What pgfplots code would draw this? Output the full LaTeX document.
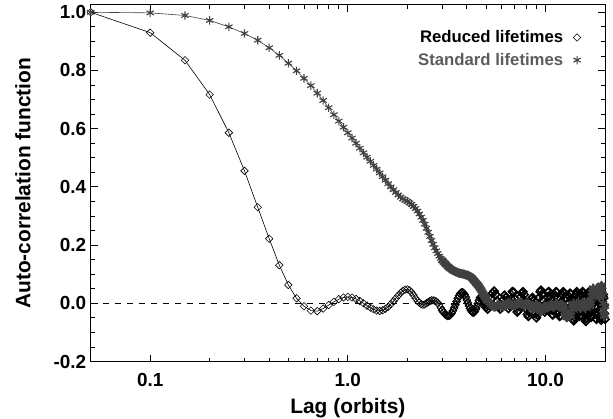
\documentclass[border=0pt]{standalone}
\usepackage{pgfplots}
\pgfplotsset{compat=1.18}
\usepackage{fontspec}
\setmainfont{Liberation Sans}
\definecolor{stdgray}{gray}{0.25}
\definecolor{stdtext}{gray}{0.36}
\pgfplotsset{markonly legend/.style={legend image code/.code={\path (0bp,0bp); \draw[##1] plot[only marks] coordinates {(12bp,0bp)};}}}
\begin{document}
\begin{tikzpicture}
\begin{axis}[
  scale only axis,
  width=514.3bp, height=356.5bp,
  xmode=log, xmin=0.05, xmax=20,
  ymin=-0.2, ymax=1.025,
  clip mode=individual,
  xtick={0.1,1,10}, xticklabels={0.1,1.0,10.0},
  ytick={-0.2,0,0.2,0.4,0.6,0.8,1.0},
  yticklabels={-0.2,0.0,0.2,0.4,0.6,0.8,1.0},
  minor ytick={-0.15,-0.1,-0.05,0.05,0.1,0.15,0.25,0.3,0.35,0.45,0.5,0.55,0.65,0.7,0.75,0.85,0.9,0.95},
  tick align=inside,
  major tick length=7bp, minor tick length=4bp,
  every tick/.style={black, line width=0.8bp},
  axis line style={line width=1bp},
  /pgf/number format/assume math mode=true,
  ticklabel style={font=\fontsize{19}{22}\selectfont\bfseries},
  xticklabel style={yshift=-8bp},
  yticklabel style={xshift=-1bp},
  xlabel={Lag (orbits)},
  ylabel={Auto-correlation function},
  label style={font=\fontsize{21}{24}\selectfont\bfseries},
  xlabel style={at={(axis description cs:0.5,-0.1304)}, anchor=center},
  ylabel style={at={(axis description cs:-0.1316,0.5)}, anchor=center},
  legend style={draw=none, fill=none, at={(1,1)}, anchor=north east,
    inner xsep=0pt, inner ysep=0pt,
    xshift=-24bp, yshift=-24bp, font=\fontsize{16.8}{19}\selectfont\bfseries,
    row sep=6bp, nodes={inner sep=1.5bp}},
  legend cell align=right,
  legend plot pos=right,
]
\addplot[black, dash pattern=on 6bp off 6bp, line width=0.7bp, forget plot] coordinates {(0.05,0) (20,0)};
% Reduced lifetimes, sparse part
\addplot[black, line width=0.6bp, mark=square, mark size=2.65bp, mark options={rotate=45, line width=0.6bp, solid},
  markonly legend]
coordinates {
(0.05,1.000) (0.10,0.930) (0.15,0.835) (0.20,0.717) (0.25,0.586) (0.30,0.455) (0.35,0.330) (0.40,0.222)
(0.45,0.131) (0.50,0.063) (0.55,0.017) (0.60,-0.010) (0.65,-0.025) (0.70,-0.027) (0.75,-0.018) (0.80,-0.006)
(0.85,0.005) (0.90,0.014) (0.95,0.020) (1.00,0.022) (1.05,0.020) (1.10,0.015) (1.15,0.008) (1.20,0.000)
(1.25,-0.008) (1.30,-0.015) (1.35,-0.021) (1.40,-0.025) (1.45,-0.026) (1.50,-0.024) (1.55,-0.019) (1.60,-0.012)
(1.65,-0.003) (1.70,0.007) (1.75,0.017) (1.80,0.027) (1.85,0.036) (1.90,0.043) (1.95,0.047) (2.00,0.048)
(2.05,0.045) (2.10,0.038) (2.15,0.028) (2.20,0.017) (2.25,0.008) (2.30,0.002) (2.35,-0.003) (2.40,-0.005)
(2.45,-0.004) (2.50,0.000) (2.55,0.004) (2.60,0.008) (2.65,0.010) (2.70,0.010) (2.75,0.009) (2.80,0.006)
(2.85,0.002) (2.90,-0.006) (2.95,-0.015) (3.00,-0.024)
};
\addlegendentry{Reduced lifetimes}
% Reduced lifetimes, middle part
\addplot[black, line width=0.6bp, mark=square, mark size=2.65bp, mark options={rotate=45, line width=1.0bp, solid},
  forget plot]
coordinates {
(3.00,-0.024) (3.05,-0.031) (3.10,-0.037) (3.15,-0.041) (3.20,-0.043)
(3.25,-0.043) (3.30,-0.040) (3.35,-0.034) (3.40,-0.026) (3.45,-0.016) (3.50,-0.005) (3.55,0.006) (3.60,0.017)
(3.65,0.026) (3.70,0.033) (3.75,0.037) (3.80,0.038) (3.85,0.035) (3.90,0.029) (3.95,0.021) (4.00,0.011)
(4.05,0.001) (4.10,-0.009) (4.15,-0.018) (4.20,-0.025) (4.25,-0.030) (4.30,-0.032) (4.35,-0.031) (4.40,-0.026)
(4.45,-0.019) (4.50,-0.010) (4.55,0.000) (4.60,0.010) (4.65,0.018) (4.70,0.022) (4.75,0.022) (4.80,0.017)
(4.85,0.009) (4.90,0.000) (4.95,-0.008) (5.00,-0.014)
};
% Reduced lifetimes, dense part
\addplot[black, line width=0.8bp, mark=square, mark size=2.8bp, mark options={rotate=45, line width=1.6bp, solid},
  forget plot]
coordinates {
(5.0,-0.014)
(5.1,-0.020) (5.2,-0.008) (5.3,0.015) (5.4,0.035) (5.5,0.042) (5.6,0.030) (5.7,0.008) (5.8,-0.012)
(5.9,-0.020) (6.0,-0.010) (6.1,0.012) (6.2,0.028) (6.3,0.020) (6.4,0.000) (6.5,-0.018) (6.6,-0.010)
(6.7,0.015) (6.8,0.040) (6.9,0.038) (7.0,0.015) (7.1,-0.010) (7.2,-0.030) (7.3,-0.025) (7.4,0.000)
(7.5,0.022) (7.6,0.035) (7.7,0.040) (7.8,0.030) (7.9,0.005) (8.0,-0.020) (8.1,-0.038) (8.2,-0.045)
(8.3,-0.030) (8.4,-0.005) (8.5,0.015) (8.6,0.020) (8.7,0.010) (8.8,-0.010) (8.9,-0.035) (9.0,-0.050)
(9.1,-0.040) (9.2,-0.010) (9.3,0.020) (9.4,0.040) (9.5,0.045) (9.6,0.030) (9.7,0.010) (9.8,-0.015)
(9.9,-0.030) (10.0,-0.020)
(10.1,0.000) (10.2,0.022) (10.3,0.038) (10.4,0.040) (10.5,0.025) (10.6,0.002) (10.7,-0.022) (10.8,-0.038)
(10.9,-0.040) (11.0,-0.025) (11.1,0.000) (11.2,0.025) (11.3,0.040) (11.4,0.038) (11.5,0.020) (11.6,-0.005)
(11.7,-0.030) (11.8,-0.045) (11.9,-0.042) (12.0,-0.022) (12.1,0.005) (12.2,0.028) (12.3,0.040) (12.4,0.035)
(12.5,0.015) (12.6,-0.012) (12.7,-0.035) (12.8,-0.048) (12.9,-0.045) (13.0,-0.028) (13.1,-0.002) (13.2,0.022)
(13.3,0.035) (13.4,0.032) (13.5,0.015) (13.6,-0.010) (13.7,-0.035) (13.8,-0.055) (13.9,-0.060) (14.0,-0.048)
(14.1,-0.022) (14.2,0.008) (14.3,0.030) (14.4,0.040) (14.5,0.035) (14.6,0.015) (14.7,-0.010) (14.8,-0.032)
(14.9,-0.045) (15.0,-0.040) (15.1,-0.020) (15.2,0.005) (15.3,0.028) (15.4,0.040) (15.5,0.036) (15.6,0.018)
(15.7,-0.008) (15.8,-0.035) (15.9,-0.055) (16.0,-0.062) (16.1,-0.052) (16.2,-0.028) (16.3,0.000) (16.4,0.025)
(16.5,0.038) (16.6,0.035) (16.7,0.018) (16.8,-0.008) (16.9,-0.032) (17.0,-0.048) (17.1,-0.046) (17.2,-0.028)
(17.3,-0.002) (17.4,0.022) (17.5,0.035) (17.6,0.032) (17.7,0.015) (17.8,-0.010) (17.9,-0.035) (18.0,-0.052)
(18.1,-0.055) (18.2,-0.040) (18.3,-0.015) (18.4,0.012) (18.5,0.030) (18.6,0.035) (18.7,0.022) (18.8,-0.002)
(18.9,-0.028) (19.0,-0.048) (19.1,-0.058) (19.2,-0.050) (19.3,-0.028) (19.4,0.000) (19.5,0.022) (19.6,0.030)
(19.7,0.018) (19.8,-0.008) (19.9,-0.035) (20.0,-0.055)
};
% Standard lifetimes, sparse part
\addplot[stdgray, line width=0.6bp, mark=asterisk, mark size=4.2bp, mark options={line width=1.1bp, solid},
  markonly legend]
coordinates {
(0.05,1.000) (0.10,0.998) (0.15,0.989) (0.20,0.972) (0.25,0.950) (0.30,0.927) (0.35,0.904) (0.40,0.878)
(0.45,0.852) (0.50,0.825) (0.55,0.799) (0.60,0.773) (0.65,0.748) (0.70,0.722) (0.75,0.697) (0.80,0.672)
(0.85,0.648) (0.90,0.626) (0.95,0.605) (1.00,0.586) (1.05,0.568) (1.10,0.550) (1.15,0.533) (1.20,0.517)
(1.25,0.502) (1.30,0.488) (1.35,0.474) (1.40,0.461) (1.45,0.448) (1.50,0.435) (1.55,0.423) (1.60,0.411)
(1.65,0.400) (1.70,0.390) (1.75,0.381) (1.80,0.372) (1.85,0.365) (1.90,0.359) (1.95,0.354) (2.00,0.350)
(2.05,0.345) (2.10,0.340) (2.15,0.333) (2.20,0.326) (2.25,0.317) (2.30,0.307) (2.35,0.296) (2.40,0.285)
(2.45,0.272) (2.50,0.258) (2.55,0.244) (2.60,0.230) (2.65,0.216) (2.70,0.203) (2.75,0.191) (2.80,0.180)
(2.85,0.171) (2.90,0.162) (2.95,0.155) (3.00,0.148)
};
\addlegendentry{\textcolor{stdtext}{Standard lifetimes}}
% Standard lifetimes, dense part
\addplot[stdgray, line width=0.8bp, mark=asterisk, mark size=4.5bp, mark options={line width=1.8bp, solid},
  forget plot]
coordinates {
(3.00,0.148) (3.05,0.142) (3.10,0.137) (3.15,0.132) (3.20,0.127)
(3.25,0.123) (3.30,0.119) (3.35,0.116) (3.40,0.113) (3.45,0.111) (3.50,0.109) (3.55,0.107) (3.60,0.105)
(3.65,0.104) (3.70,0.103) (3.75,0.102) (3.80,0.101) (3.85,0.100) (3.90,0.099) (3.95,0.098) (4.00,0.097)
(4.05,0.096) (4.10,0.094) (4.15,0.092) (4.20,0.089) (4.25,0.086) (4.30,0.082) (4.35,0.078) (4.40,0.074)
(4.45,0.070) (4.50,0.066) (4.55,0.062) (4.60,0.058) (4.65,0.053) (4.70,0.048) (4.75,0.043) (4.80,0.037)
(4.85,0.032) (4.90,0.026) (4.95,0.021) (5.00,0.016)
(5.1,0.008) (5.2,0.002) (5.3,-0.004) (5.4,-0.010) (5.5,-0.013) (5.6,-0.012) (5.7,-0.008) (5.8,-0.006)
(5.9,-0.007) (6.0,-0.010) (6.1,-0.012) (6.2,-0.010) (6.3,-0.005) (6.4,0.000) (6.5,0.002) (6.6,0.000)
(6.7,-0.004) (6.8,-0.008) (6.9,-0.010) (7.0,-0.008) (7.1,-0.004) (7.2,0.000) (7.3,0.003) (7.4,0.004)
(7.5,0.002) (7.6,-0.002) (7.7,-0.006) (7.8,-0.008) (7.9,-0.006) (8.0,-0.002) (8.1,0.001) (8.2,0.000)
(8.3,-0.004) (8.4,-0.010) (8.5,-0.016) (8.6,-0.020) (8.7,-0.018) (8.8,-0.012) (8.9,-0.006) (9.0,-0.004)
(9.1,-0.008) (9.2,-0.015) (9.3,-0.022) (9.4,-0.027) (9.5,-0.028) (9.6,-0.024) (9.7,-0.018) (9.8,-0.012)
(9.9,-0.010) (10.0,-0.012)
(10.1,-0.014) (10.2,-0.016) (10.3,-0.015) (10.4,-0.011) (10.5,-0.006) (10.6,-0.003) (10.7,-0.004) (10.8,-0.008)
(10.9,-0.012) (11.0,-0.013) (11.1,-0.010) (11.2,-0.005) (11.3,-0.001) (11.4,0.000) (11.5,-0.003) (11.6,-0.008)
(11.7,-0.012) (11.8,-0.013) (11.9,-0.010) (12.0,-0.006) (12.1,-0.004) (12.2,-0.006) (12.3,-0.012) (12.4,-0.020)
(12.5,-0.030) (12.6,-0.040) (12.7,-0.046) (12.8,-0.048) (12.9,-0.046) (13.0,-0.042) (13.1,-0.040) (13.2,-0.041)
(13.3,-0.044) (13.4,-0.040) (13.5,-0.030) (13.6,-0.018) (13.7,-0.008) (13.8,-0.002) (13.9,0.000) (14.0,-0.004)
(14.1,-0.010) (14.2,-0.015) (14.3,-0.016) (14.4,-0.012) (14.5,-0.006) (14.6,-0.002) (14.7,-0.003) (14.8,-0.008)
(14.9,-0.014) (15.0,-0.018) (15.1,-0.016) (15.2,-0.010) (15.3,-0.003) (15.4,0.002) (15.5,0.003) (15.6,-0.001)
(15.7,-0.007) (15.8,-0.012) (15.9,-0.014) (16.0,-0.010) (16.1,-0.004) (16.2,0.002) (16.3,0.005) (16.4,0.004)
(16.5,0.000) (16.6,-0.006) (16.7,-0.010) (16.8,-0.008) (16.9,0.000) (17.0,0.012) (17.1,0.025) (17.2,0.038)
(17.3,0.048) (17.4,0.052) (17.5,0.050) (17.6,0.045) (17.7,0.040) (17.8,0.038) (17.9,0.040) (18.0,0.045)
(18.1,0.050) (18.2,0.052) (18.3,0.048) (18.4,0.040) (18.5,0.030) (18.6,0.022) (18.7,0.020) (18.8,0.025)
(18.9,0.035) (19.0,0.048) (19.1,0.058) (19.2,0.062) (19.3,0.058) (19.4,0.045) (19.5,0.025) (19.6,0.000)
(19.7,-0.025) (19.8,-0.045) (19.9,-0.040) (20.0,-0.010)
};
\end{axis}
\pgfresetboundingbox
\path[use as bounding box] ([xshift=-90.7bp,yshift=-57.5bp]current axis.south west) rectangle ([xshift=8bp,yshift=5bp]current axis.north east);
\end{tikzpicture}
\end{document}
